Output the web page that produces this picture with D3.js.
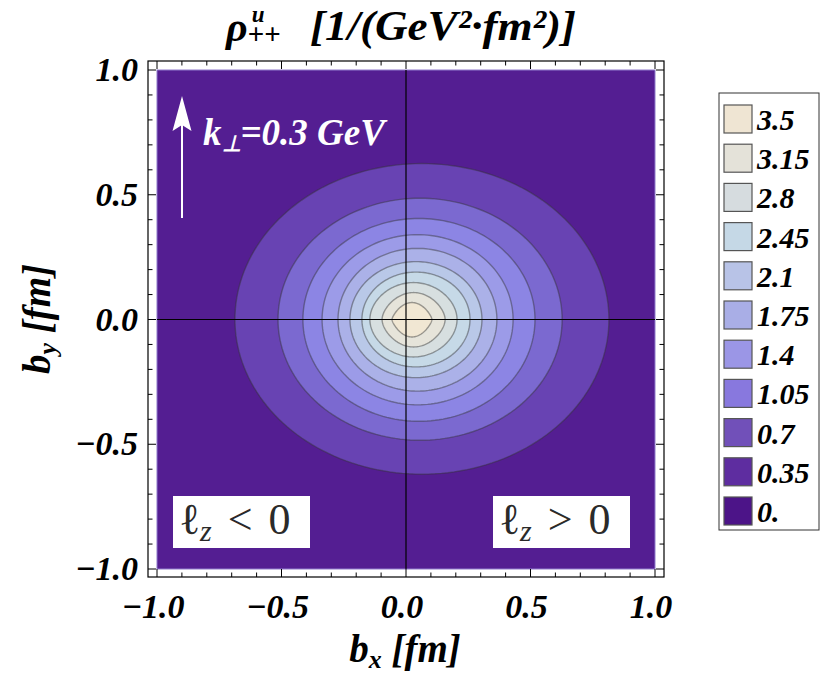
<!DOCTYPE html>
<html>
<head>
<meta charset="utf-8">
<script src="https://cdn.jsdelivr.net/npm/d3@7"></script>
<style>
  body { margin: 0; background: #fff; }
  svg text { font-family: "Liberation Serif", "Times New Roman", serif; }
</style>
</head>
<body>
<div class="chart"></div>
<script>
// contour map of rho_{++}^u, k_perp = 0.3 GeV
var svgWidth = 821;
var svgHeight = 673;

// contour levels and legend
var levels = [0.35, 0.7, 1.05, 1.4, 1.75, 2.1, 2.45, 2.8, 3.15, 3.5];
var legendLabels = ["3.5", "3.15", "2.8", "2.45", "2.1", "1.75", "1.4", "1.05", "0.7", "0.35", "0."];
// band colours, lowest band first (below 0.35 ... above 3.5)
var bandColors = ["#541e92", "#6843b3", "#7b69d0", "#8c85e4", "#9c9be8", "#abb1e8",
                  "#b9c8e8", "#c6d9e7", "#d7dfe0", "#e6e4da", "#f1e7d3"];
var legendColors = ["#efe5d3", "#e4e2d9", "#d6dcdf", "#c5d8e6", "#b8c3e7", "#a9aee6",
                    "#9b96e6", "#8878de", "#7150b9", "#5e2da0", "#4c1488"];

// where each contour crosses the axes (fm), level 0.35 first
var contourLeft   = [-0.687, -0.514, -0.414, -0.337, -0.273, -0.225, -0.177, -0.145, -0.096, -0.056];
var contourRight  = [ 0.815,  0.627,  0.518,  0.430,  0.365,  0.305,  0.257,  0.205,  0.157,  0.104];
var contourTop    = [ 0.625,  0.486,  0.405,  0.340,  0.285,  0.232,  0.190,  0.148,  0.108,  0.068];
var contourBottom = [-0.620, -0.484, -0.408, -0.342, -0.287, -0.233, -0.190, -0.150, -0.110, -0.070];
// how pointed the left/right ends are (0 = round)
var contourPoint  = [0, 0, 0, 0, 0, 0, 0, 0.1, 0.3, 0.6];

var xTicks = [-1, -0.5, 0, 0.5, 1];
var yTicks = [-1, -0.5, 0, 0.5, 1];
var tickLabels = ["\u22121.0", "\u22120.5", "0.0", "0.5", "1.0"];

var svg = d3.select(".chart")
    .append("svg")
    .attr("width", svgWidth)
    .attr("height", svgHeight);

// scales
var x = d3.scaleLinear().domain([-1, 1]).range([157, 655]);
var y = d3.scaleLinear().domain([-1, 1]).range([569, 70]);

// background band
svg.append("rect")
    .attr("x", x(-1)).attr("y", y(1))
    .attr("width", x(1) - x(-1)).attr("height", y(-1) - y(1))
    .attr("fill", bandColors[0])
    .attr("stroke", "#8f7bcc")
    .attr("stroke-width", 1);

// contour shapes
var line = d3.line().x(d => x(d[0])).y(d => y(d[1])).curve(d3.curveLinearClosed);

function contourPoints(i) {
    var cx = (contourLeft[i] + contourRight[i]) / 2;
    var a = (contourRight[i] - contourLeft[i]) / 2;
    var s = contourPoint[i];
    var pts = [];
    for (var k = 0; k < 180; k++) {
        var t = k / 180 * 2 * Math.PI;
        var st = Math.sin(t);
        var b = st >= 0 ? contourTop[i] : -contourBottom[i];
        var yy = b * Math.sign(st) * ((1 - s) * Math.abs(st) + s * st * st);
        pts.push([cx + a * Math.cos(t), yy]);
    }
    return pts;
}

svg.append("g")
    .selectAll("path")
    .data(levels)
    .enter()
    .append("path")
    .attr("d", (d, i) => line(contourPoints(i)))
    .attr("fill", (d, i) => bandColors[i + 1])
    .attr("stroke", "rgba(50,50,50,0.45)")
    .attr("stroke-width", 1.4);

// axes cross
svg.append("line")
    .attr("x1", x(0)).attr("x2", x(0)).attr("y1", y(1)).attr("y2", y(-1))
    .attr("stroke", "#000").attr("stroke-width", 1.2);
svg.append("line")
    .attr("x1", x(-1)).attr("x2", x(1)).attr("y1", y(0)).attr("y2", y(0))
    .attr("stroke", "#000").attr("stroke-width", 1.2);

// frame
var fx0 = 148, fx1 = 664, fy0 = 61, fy1 = 577;
svg.append("rect")
    .attr("x", fx0).attr("y", fy0)
    .attr("width", fx1 - fx0).attr("height", fy1 - fy0)
    .attr("fill", "none").attr("stroke", "#000").attr("stroke-width", 1.2);

var minor = d3.range(-10, 11).map(d => d / 10);
var ticks = svg.append("g").attr("stroke", "#000").attr("stroke-width", 1);
minor.forEach(function (v) {
    var major = Math.abs(v * 2 - Math.round(v * 2)) < 1e-6;
    var len = major ? 8 : 4.5;
    ticks.append("line").attr("x1", x(v)).attr("x2", x(v)).attr("y1", fy1).attr("y2", fy1 - len);
    ticks.append("line").attr("x1", x(v)).attr("x2", x(v)).attr("y1", fy0).attr("y2", fy0 + len);
    ticks.append("line").attr("y1", y(v)).attr("y2", y(v)).attr("x1", fx0).attr("x2", fx0 + len);
    ticks.append("line").attr("y1", y(v)).attr("y2", y(v)).attr("x1", fx1).attr("x2", fx1 - len);
});

// tick labels
svg.append("g").selectAll("text")
    .data(xTicks).enter().append("text")
    .attr("x", d => x(d) - 4)
    .attr("y", 618)
    .attr("text-anchor", "middle")
    .attr("font-size", 34)
    .attr("font-weight", "bold")
    .attr("font-style", "italic")
    .text((d, i) => tickLabels[i]);

svg.append("g").selectAll("text")
    .data(yTicks).enter().append("text")
    .attr("x", 138)
    .attr("y", d => y(d) + 11)
    .attr("text-anchor", "end")
    .attr("font-size", 34)
    .attr("font-weight", "bold")
    .attr("font-style", "italic")
    .text((d, i) => tickLabels[i]);

// axis titles
var xt = svg.append("text")
    .attr("x", 405).attr("y", 662)
    .attr("text-anchor", "middle")
    .attr("font-size", 39).attr("font-weight", "bold").attr("font-style", "italic");
xt.append("tspan").text("b");
xt.append("tspan").attr("font-size", 26).attr("dy", 6).text("x");
xt.append("tspan").attr("dy", -6).text(" [fm]");

var yt = svg.append("text")
    .attr("transform", "translate(50,319) rotate(-90)")
    .attr("text-anchor", "middle")
    .attr("font-size", 39).attr("font-weight", "bold").attr("font-style", "italic");
yt.append("tspan").text("b");
yt.append("tspan").attr("font-size", 26).attr("dy", 6).text("y");
yt.append("tspan").attr("dy", -6).text(" [fm]");

// title: rho with superscript u and subscript ++ in one text
var title = svg.append("g").attr("font-weight", "bold").attr("font-style", "italic");
var rho = title.append("text").attr("x", 226).attr("y", 41).attr("font-size", 42);
rho.append("tspan").text("\u03c1");
rho.append("tspan").attr("font-size", 23).attr("dx", 4).attr("dy", -19).text("u");
rho.append("tspan").attr("font-size", 29).attr("dx", -17).attr("dy", 22).text("++");
title.append("text").attr("x", 310).attr("y", 40).attr("font-size", 42)
    .attr("textLength", 266).attr("lengthAdjust", "spacingAndGlyphs")
    .text("[1/(GeV\u00b2\u00b7fm\u00b2)]");

// k_perp arrow
svg.append("line")
    .attr("x1", 182).attr("x2", 182).attr("y1", 218).attr("y2", 115)
    .attr("stroke", "#fff").attr("stroke-width", 2);
svg.append("path")
    .attr("d", "M182,96 L172.5,131 L182,125 L191.5,131 Z")
    .attr("fill", "#fff");

var kt = svg.append("text")
    .attr("x", 203).attr("y", 145)
    .attr("fill", "#fff")
    .attr("font-size", 37).attr("font-weight", "bold").attr("font-style", "italic");
kt.append("tspan").text("k");
kt.append("tspan").attr("font-size", 22).attr("dy", 6).text("\u22a5");
kt.append("tspan").attr("dy", -6).text("=0.3 GeV");

// l_z boxes
var lzBoxes = [{x0: 173, label: "<"}, {x0: 493, label: ">"}];
lzBoxes.forEach(function (b) {
    svg.append("rect")
        .attr("x", b.x0).attr("y", 496)
        .attr("width", 137).attr("height", 52)
        .attr("fill", "#fff");
    var t = svg.append("text")
        .attr("x", b.x0 + 6).attr("y", 534)
        .attr("fill", "#2a2a2a")
        .attr("font-family", "'DejaVu Serif', serif")
        .attr("font-size", 44);
    t.append("tspan").style("font-family", "'DejaVu Serif', serif").text("\u2113");
    t.append("tspan").attr("font-size", 30).attr("font-style", "italic").attr("dy", 7).text("z");
    t.append("tspan").attr("dy", -7).attr("dx", 16).text(b.label);
    t.append("tspan").attr("dx", 16).text("0");
});

// legend
var legend = svg.append("g");
legend.append("rect")
    .attr("x", 719).attr("y", 93)
    .attr("width", 100).attr("height", 437)
    .attr("fill", "#fff").attr("stroke", "#333").attr("stroke-width", 1);

var items = legend.selectAll("g.item")
    .data(legendLabels).enter().append("g")
    .attr("class", "item")
    .attr("transform", (d, i) => `translate(724, ${105 + i * 39.2})`);
items.append("rect")
    .attr("width", 28).attr("height", 28)
    .attr("fill", (d, i) => legendColors[i])
    .attr("stroke", "#555").attr("stroke-width", 1.2);
items.append("text")
    .attr("x", 33).attr("y", 25)
    .attr("font-size", 30).attr("font-weight", "bold").attr("font-style", "italic")
    .text(d => d);
</script>
</body>
</html>
